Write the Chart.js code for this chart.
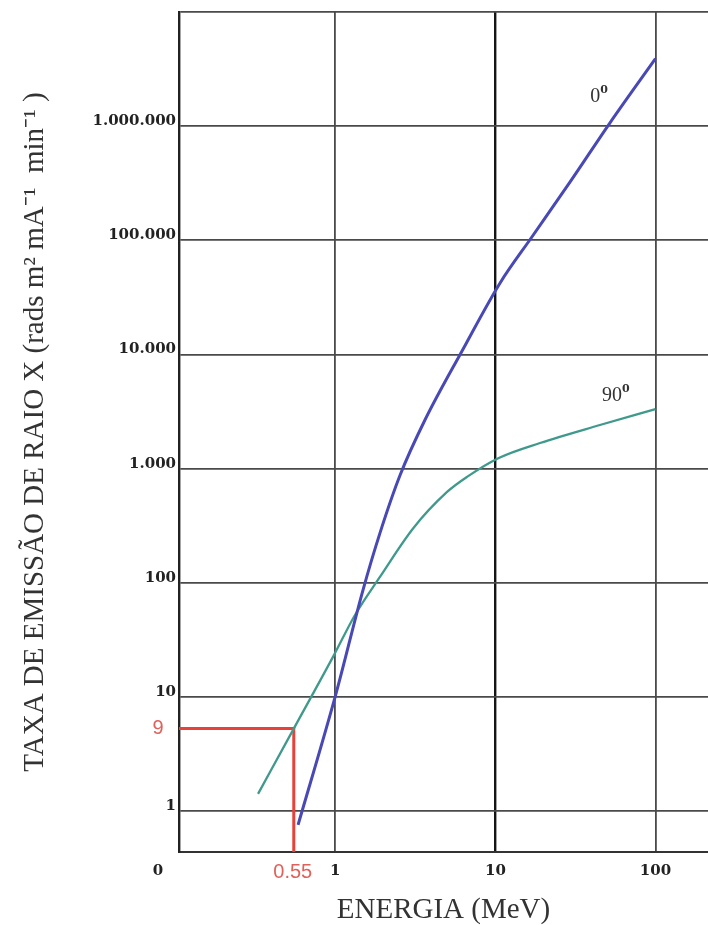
<!DOCTYPE html>
<html>
<head>
<meta charset="utf-8">
<script src="https://cdn.jsdelivr.net/npm/chart.js@4.4.1/dist/chart.umd.min.js"></script>
<style>
html,body{margin:0;padding:0;background:#fff;}
canvas{display:block;}
</style>
</head>
<body>
<canvas id="c" width="708" height="925"></canvas>
<script>
// ---- axis ranges and tick labels ----
const energyMin = 0.1055, energyMax = 213;
const rateMin = 0.44, rateMax = 1e7;
const energyTicks = [1, 10, 100];
const energyTickLabels = ['1', '10', '100'];
const rateTicks = [1, 10, 100, 1000, 10000, 100000, 1000000];
const rateTickLabels = ['1', '10', '100', '1.000', '10.000', '100.000', '1.000.000'];
const originLabel = '0';

// ---- series: 0 degree ----
const energy0 = [0.585, 1.0, 1.49, 1.9, 2.54, 3.63, 6.19, 10.7, 16.9, 29.3, 52, 100];
const rate0   = [0.76, 10.2, 87, 273, 880, 2670, 10750, 42400, 107000, 325000, 1070000, 3900000];

// ---- series: 90 degree ----
const energy90 = [0.329, 0.55, 0.967, 1.327, 1.9, 3.06, 4.99, 6.65, 10.5, 19, 45, 100];
const rate90   = [1.42, 5.3, 22.5, 52.4, 113, 300, 626, 848, 1242, 1680, 2415, 3330];

// ---- red reading marker ----
const markerEnergy = 0.55, markerRate = 5.3;
const markerEnergyLabel = '0.55', markerRateLabel = '9';

// ---- curve labels ----
const curveLabels = ['0', '90'];
const curveLabelEnergy = [44, 60];
const curveLabelRate = [1.8e6, 4350];

const toPts = (xs, ys) => xs.map((x, i) => ({x: x, y: ys[i]}));

const whiteBg = {
  id: 'whiteBg',
  beforeDraw(chart) {
    const c = chart.ctx;
    c.save();
    c.fillStyle = '#fff';
    c.fillRect(0, 0, chart.width, chart.height);
    c.restore();
  }
};

const annotations = {
  id: 'annotations',
  afterDraw(chart) {
    const c = chart.ctx;
    const xs = chart.scales.x, ys = chart.scales.y;
    const area = chart.chartArea;
    c.save();
    c.textAlign = 'center';
    c.textBaseline = 'middle';
    // origin "0"
    c.fillStyle = '#222';
    c.font = 'bold 15px "DejaVu Serif"';
    c.fillText(originLabel, area.left - 21, area.bottom + 19);
    // red marker labels
    c.fillStyle = '#e0605a';
    c.font = '20px "Liberation Sans"';
    c.fillText(markerRateLabel, area.left - 21, ys.getPixelForValue(markerRate));
    c.fillText(markerEnergyLabel, xs.getPixelForValue(markerEnergy) - 1, area.bottom + 20);
    // curve labels with superscript
    c.fillStyle = '#333';
    for (let i = 0; i < curveLabels.length; i++) {
      const px = xs.getPixelForValue(curveLabelEnergy[i]);
      const py = ys.getPixelForValue(curveLabelRate[i]);
      c.font = '20px "Liberation Serif"';
      c.textAlign = 'right';
      c.fillText(curveLabels[i], px + 2, py);
      c.textAlign = 'left';
      c.font = 'bold 11px "DejaVu Serif"';
      c.fillText('0', px + 2, py - 7);
    }
    c.restore();
  }
};

const gridColorX = ctx => (ctx.tick && ctx.tick.value === 10) ? '#151515' : '#4a4a4a';
const gridWidthX = ctx => (ctx.tick && ctx.tick.value === 10) ? 2.4 : 1.8;

new Chart(document.getElementById('c').getContext('2d'), {
  type: 'scatter',
  data: {
    datasets: [
      {
        label: '0°',
        data: toPts(energy0, rate0),
        showLine: true,
        borderColor: '#4848b6',
        borderWidth: 3,
        pointRadius: 0,
        cubicInterpolationMode: 'monotone'
      },
      {
        label: '90°',
        data: toPts(energy90, rate90),
        showLine: true,
        borderColor: '#3f9a8c',
        borderWidth: 2.3,
        pointRadius: 0,
        cubicInterpolationMode: 'monotone'
      },
      {
        label: 'leitura',
        data: [{x: energyMin, y: markerRate}, {x: markerEnergy, y: markerRate}, {x: markerEnergy, y: rateMin}],
        showLine: true,
        borderColor: '#e8413a',
        borderWidth: 3,
        pointRadius: 0,
        tension: 0
      }
    ]
  },
  options: {
    responsive: false,
    animation: false,
    layout: {padding: {top: 12, left: 0, right: 0, bottom: 0}},
    plugins: {legend: {display: false}, tooltip: {enabled: false}},
    scales: {
      x: {
        type: 'logarithmic',
        min: energyMin,
        max: energyMax,
        afterBuildTicks: s => { s.ticks = [energyMin].concat(energyTicks).map(v => ({value: v})); },
        afterFit: s => { s.height = 73; },
        ticks: {
          autoSkip: false,
          maxRotation: 0,
          padding: 10,
          color: '#222',
          font: {family: 'DejaVu Serif', weight: 'bold', size: 15},
          callback: v => { const i = energyTicks.indexOf(v); return i >= 0 ? energyTickLabels[i] : ''; }
        },
        grid: {color: gridColorX, lineWidth: gridWidthX, drawTicks: false},
        border: {display: true, color: '#333', width: 2},
        title: {
          display: true,
          text: 'ENERGIA (MeV)',
          color: '#333',
          font: {family: 'Liberation Serif', size: 29, lineHeight: 1},
          padding: {top: 0, bottom: 0}
        }
      },
      y: {
        type: 'logarithmic',
        min: rateMin,
        max: rateMax,
        afterBuildTicks: s => { s.ticks = [rateMin].concat(rateTicks, [rateMax]).map(v => ({value: v})); },
        afterFit: s => { s.width = 179; },
        ticks: {
          autoSkip: false,
          padding: 3,
          labelOffset: -5,
          color: '#222',
          font: {family: 'DejaVu Serif', weight: 'bold', size: 15},
          callback: v => { const i = rateTicks.indexOf(v); return i >= 0 ? rateTickLabels[i] : ''; }
        },
        grid: {color: '#4a4a4a', lineWidth: 1.8, drawTicks: false},
        border: {display: true, color: '#222', width: 2.4},
        title: {
          display: true,
          text: 'TAXA DE EMISSÃO DE RAIO X (rads m² mA⁻¹  min⁻¹ )',
          color: '#333',
          font: {family: 'Liberation Serif', size: 29, lineHeight: 1},
          padding: {top: 21, bottom: 0}
        }
      }
    }
  },
  plugins: [whiteBg, annotations]
});
</script>
</body>
</html>
